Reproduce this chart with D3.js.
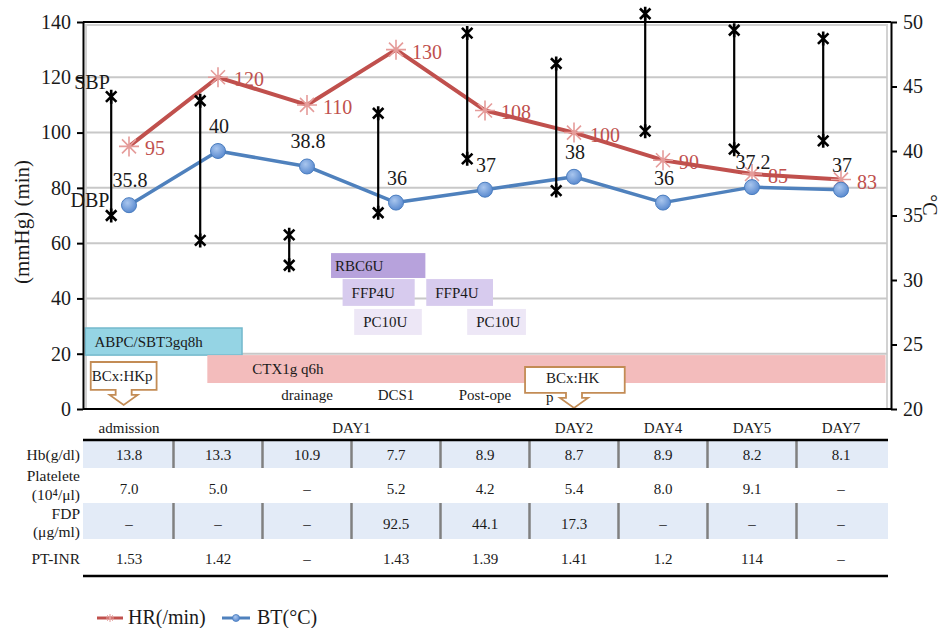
<!DOCTYPE html>
<html><head><meta charset="utf-8">
<script src="https://cdn.jsdelivr.net/npm/d3@7"></script>
<style>
body{margin:0;background:#fff}
svg{display:block}
text{font-family:"Liberation Serif","Times New Roman",serif;fill:#1a1a1a}
</style>
</head><body>
<svg id="c" width="945" height="628"></svg>
<script>
// ---------- data ----------
const timepoints = ["admission","DAY1-a","DAY1-b","DAY1-c","DAY1-d","DAY2","DAY4","DAY5","DAY7"];
const hr  = [95,120,110,130,108,100,90,85,83];
const bt  = [35.8,40,38.8,36,37,38,36,37.2,37];
const sbp = [113,111.5,63,107,136,125,143,137,134];
const dbp = [70,61,52,71,90.5,79,100.5,94,97];
const leftTicks  = [0,20,40,60,80,100,120,140];
const rightTicks = [20,25,30,35,40,45,50];
const headers = [
  {label:"admission",from:0,to:0},{label:"DAY1",from:1,to:4},{label:"DAY2",from:5,to:5},
  {label:"DAY4",from:6,to:6},{label:"DAY5",from:7,to:7},{label:"DAY7",from:8,to:8}];
const rowLabels = [["Hb(g/dl)"],["Platelete","(10⁴/μl)"],["FDP","(μg/ml)"],["PT-INR"]];
const hb       = ["13.8","13.3","10.9","7.7","8.9","8.7","8.9","8.2","8.1"];
const platelet = ["7.0","5.0","–","5.2","4.2","5.4","8.0","9.1","–"];
const fdp      = ["–","–","–","92.5","44.1","17.3","–","–","–"];
const ptinr    = ["1.53","1.42","–","1.43","1.39","1.41","1.2","114","–"];
const events   = [{label:"drainage",at:2},{label:"DCS1",at:3},{label:"Post-ope",at:4}];
const treatments = [
  {label:"ABPC/SBT3gq8h",from:-0.49,to:1.27,lo:19.5,hi:29.3,kind:"abpc"},
  {label:"CTX1g q6h",from:0.88,to:8.5,lo:9.4,hi:19.5,kind:"ctx"},
  {label:"RBC6U",from:2.27,to:3.33,lo:47.4,hi:56.4,kind:"rbc"},
  {label:"FFP4U",from:2.40,to:3.21,lo:37.3,hi:47,kind:"ffp"},
  {label:"FFP4U",from:3.34,to:4.09,lo:37.3,hi:47,kind:"ffp"},
  {label:"PC10U",from:2.53,to:3.29,lo:26.8,hi:36.2,kind:"pc"},
  {label:"PC10U",from:3.80,to:4.46,lo:26.8,hi:36.2,kind:"pc"}];
const cultures = [
  {lines:["BCx:HKp"],from:-0.43,to:0.31,lo:6.9,hi:17,tip:-0.06},
  {lines:["BCx:HK","p"],from:4.45,to:5.57,lo:5.8,hi:15.2,tip:5.0}];

// ---------- layout ----------
const svg = d3.select("#c");
const AXL = 83, AXR = 891, TOP = 22, BOT = 409;
const x = d3.scalePoint().domain(d3.range(timepoints.length)).range([84.5,885.5]).padding(0.5);
const step = x.step();
const xf = i => x(0) + i*step;
const yL = d3.scaleLinear().domain([0,140]).range([BOT,TOP]);
const yR = d3.scaleLinear().domain([20,50]).range([BOT,TOP]);

const styles = {
  abpc:{fill:"#95d4e4",stroke:"#74b9cc"},
  ctx:{fill:"#f3bcbc",stroke:"none"},
  rbc:{fill:"#b7a2dc",stroke:"none"},
  ffp:{fill:"#d7cbee",stroke:"none"},
  pc:{fill:"#ede7f6",stroke:"none"}};

// grid + plot border
const g = svg.append("g");
g.append("rect").attr("x",86).attr("y",25).attr("width",887-86).attr("height",BOT-25)
  .attr("fill","none").attr("stroke","#d2d2d2").attr("stroke-width",2);
g.selectAll("line.grid").data(leftTicks.filter(v=>v>0&&v<140)).join("line")
  .attr("x1",86).attr("x2",887).attr("y1",d=>yL(d)).attr("y2",d=>yL(d))
  .attr("stroke","#c8c8c8").attr("stroke-width",2);

// treatment boxes
const tb = svg.append("g");
treatments.forEach(t=>{
  const s = styles[t.kind];
  tb.append("rect").attr("x",xf(t.from)).attr("y",yL(t.hi))
    .attr("width",xf(t.to)-xf(t.from)).attr("height",yL(t.lo)-yL(t.hi))
    .attr("fill",s.fill).attr("stroke",s.stroke).attr("stroke-width",1.5);
});
treatments.forEach(t=>{
  const dx = t.kind==="rbc"?4:(t.kind==="ctx"?45:9);
  tb.append("text").attr("x",xf(t.from)+dx).attr("y",(yL(t.hi)+yL(t.lo))/2)
    .attr("dy","0.35em").attr("font-size",15).text(t.label);
});

// cultures callouts
cultures.forEach(c=>{
  const x0=xf(c.from), x1=xf(c.to), y0=yL(c.hi), y1=yL(c.lo), tx=xf(c.tip);
  const sw=8, hw=14, sl=5, hl=10;
  const p = `M${x0},${y0}L${x1},${y0}L${x1},${y1}L${tx+sw},${y1}L${tx+sw},${y1+sl}L${tx+hw},${y1+sl}L${tx},${y1+sl+hl}L${tx-hw},${y1+sl}L${tx-sw},${y1+sl}L${tx-sw},${y1}L${x0},${y1}Z`;
  svg.append("path").attr("d",p).attr("fill","#fff").attr("stroke","#c38c55").attr("stroke-width",1.8);
  c.lines.forEach((l,k)=>{
    svg.append("text").attr("x",x0+(c.lines.length>1?21:1)).attr("y",(y0+y1)/2+(c.lines.length>1?-2:0)+k*19)
      .attr("dy","0.35em").attr("font-size",15).text(l);
  });
});

// events
svg.selectAll("text.ev").data(events).join("text")
  .attr("x",d=>x(d.at)).attr("y",395).attr("dy","0.35em").attr("text-anchor","middle")
  .attr("font-size",15).text(d=>d.label);

// lines
const hrLine = d3.line().x((d,i)=>x(i)).y(d=>yL(d));
const btLine = d3.line().x((d,i)=>x(i)).y(d=>yR(d));
svg.append("path").attr("d",hrLine(hr)).attr("fill","none").attr("stroke","#c0504d").attr("stroke-width",4).attr("stroke-linejoin","round");
svg.append("path").attr("d",btLine(bt)).attr("fill","none").attr("stroke","#4f81bd").attr("stroke-width",3.5).attr("stroke-linejoin","round");

const star = (r)=>`M${-r*0.75},${-r*0.75}L${r*0.75},${r*0.75}M${-r*0.75},${r*0.75}L${r*0.75},${-r*0.75}M0,${-r}L0,${r}`;
const star8 = (r)=>`M${-r*0.7},${-r*0.7}L${r*0.7},${r*0.7}M${-r*0.7},${r*0.7}L${r*0.7},${-r*0.7}M0,${-r}L0,${r}M${-r},0L${r},0`;
svg.selectAll("path.hrm").data(hr).join("path")
  .attr("transform",(d,i)=>`translate(${x(i)},${yL(d)})`).attr("d",star8(10))
  .attr("stroke","#e59c9a").attr("stroke-width",1.6).attr("fill","none");

const defs = svg.append("defs");
const rg = defs.append("radialGradient").attr("id","bg").attr("cx","40%").attr("cy","35%").attr("r","65%");
rg.append("stop").attr("offset","0%").attr("stop-color","#a9c6ee");
rg.append("stop").attr("offset","100%").attr("stop-color","#5b8bd0");
svg.selectAll("circle.btm").data(bt).join("circle")
  .attr("cx",(d,i)=>x(i)).attr("cy",d=>yR(d)).attr("r",7.5)
  .attr("fill","url(#bg)").attr("stroke","#4a7dbf").attr("stroke-width",1);

// BP bars
const bpOff = step*0.2;
const bp = svg.append("g");
sbp.forEach((s,i)=>{
  const bx = x(i)-bpOff;
  bp.append("line").attr("x1",bx).attr("x2",bx).attr("y1",yL(s)).attr("y2",yL(dbp[i]))
    .attr("stroke","#000").attr("stroke-width",2.2);
  [s,dbp[i]].forEach(v=>bp.append("path").attr("transform",`translate(${bx},${yL(v)})`)
    .attr("d",star(7)).attr("stroke","#000").attr("stroke-width",2.6).attr("fill","none"));
});

// data labels
svg.selectAll("text.hrl").data(hr).join("text")
  .attr("x",(d,i)=>x(i)+16).attr("y",d=>yL(d)+2).attr("dy","0.35em")
  .attr("font-size",20).style("fill","#c0504d").text(d=>d);
svg.selectAll("text.btl").data(bt).join("text")
  .attr("x",(d,i)=>x(i)+1).attr("y",d=>yR(d)-25).attr("dy","0.35em").attr("text-anchor","middle")
  .attr("font-size",20).text(d=>d);

// axes
const la = svg.append("g").attr("transform",`translate(${AXL},0)`)
  .call(d3.axisLeft(yL).tickValues(leftTicks).tickSize(6).tickSizeOuter(0).tickPadding(6));
const ra = svg.append("g").attr("transform",`translate(${AXR},0)`)
  .call(d3.axisRight(yR).tickValues(rightTicks).tickSize(6).tickSizeOuter(0).tickPadding(6));
[la,ra].forEach(a=>{
  a.selectAll("path,line").attr("stroke","#000").attr("stroke-width",2);
  a.selectAll("text").attr("font-size",20).attr("font-family","Liberation Serif, serif").style("fill","#1a1a1a");
});
svg.append("line").attr("x1",AXL).attr("x2",AXR).attr("y1",TOP).attr("y2",TOP).attr("stroke","#000").attr("stroke-width",2);
svg.append("line").attr("x1",AXL).attr("x2",AXR).attr("y1",BOT).attr("y2",BOT).attr("stroke","#000").attr("stroke-width",2);

// SBP / DBP labels
svg.append("text").attr("x",92).attr("y",82).attr("dy","0.35em").attr("text-anchor","middle").attr("font-size",20).text("SBP");
svg.append("text").attr("x",90).attr("y",200).attr("dy","0.35em").attr("text-anchor","middle").attr("font-size",20).text("DBP");

// axis titles
svg.append("text").attr("transform","translate(22,222) rotate(-90)").attr("text-anchor","middle")
  .attr("dy","0.35em").attr("font-size",21).text("(mmHg) (min)");
svg.append("text").attr("transform","translate(930,205) rotate(90)").attr("text-anchor","middle")
  .attr("dy","0.35em").attr("font-size",20).text("°C");

// headers
svg.selectAll("text.hd").data(headers).join("text")
  .attr("x",d=>(x(d.from)+x(d.to))/2).attr("y",428).attr("dy","0.35em").attr("text-anchor","middle")
  .attr("font-size",15).text(d=>d.label);

// table
const TL=83, TR=888;
const rows = [
  {vals:hb, y0:441, y1:468, ty:455, shade:true, lab:[455]},
  {vals:platelet, y0:468, y1:503, ty:489, shade:false, lab:[476,495]},
  {vals:fdp, y0:503, y1:539, ty:524, shade:true, lab:[514,532]},
  {vals:ptinr, y0:539, y1:575, ty:559, shade:false, lab:[559]}];
const tg = svg.append("g");
rows.forEach((r,ri)=>{
  if(r.shade){
    tg.append("rect").attr("x",TL).attr("y",r.y0).attr("width",TR-TL).attr("height",r.y1-r.y0).attr("fill","#e3ebf7");
    d3.range(timepoints.length-1).forEach(i=>tg.append("line")
      .attr("x1",xf(i+0.5)).attr("x2",xf(i+0.5)).attr("y1",r.y0).attr("y2",r.y1)
      .attr("stroke","#808080").attr("stroke-width",2.5));
  }
  r.vals.forEach((v,i)=>tg.append("text").attr("x",x(i)).attr("y",r.ty).attr("dy","0.35em")
    .attr("text-anchor","middle").attr("font-size",15).text(v));
  rowLabels[ri].forEach((l,k)=>tg.append("text").attr("x",80).attr("y",r.lab[k]).attr("dy","0.35em")
    .attr("text-anchor","end").attr("font-size",15.5).text(l));
});
tg.append("line").attr("x1",TL).attr("x2",TR).attr("y1",440).attr("y2",440).attr("stroke","#000").attr("stroke-width",2.5);
tg.append("line").attr("x1",TL).attr("x2",TR).attr("y1",576).attr("y2",576).attr("stroke","#000").attr("stroke-width",2.5);

// legend
const lg = svg.append("g");
lg.append("line").attr("x1",97).attr("x2",123).attr("y1",618).attr("y2",618).attr("stroke","#c0504d").attr("stroke-width",3);
lg.append("path").attr("transform","translate(110,618)").attr("d",star8(4)).attr("stroke","#e59c9a").attr("stroke-width",1).attr("fill","none");
lg.append("text").attr("x",128).attr("y",617).attr("dy","0.35em").attr("font-size",20).text("HR(/min)");
lg.append("line").attr("x1",222).attr("x2",250).attr("y1",618).attr("y2",618).attr("stroke","#4f81bd").attr("stroke-width",3);
lg.append("circle").attr("cx",236).attr("cy",618).attr("r",3.5).attr("fill","url(#bg)").attr("stroke","#4a7dbf").attr("stroke-width",0.8);
lg.append("text").attr("x",257).attr("y",617).attr("dy","0.35em").attr("font-size",20).text("BT(°C)");
</script>
</body></html>
